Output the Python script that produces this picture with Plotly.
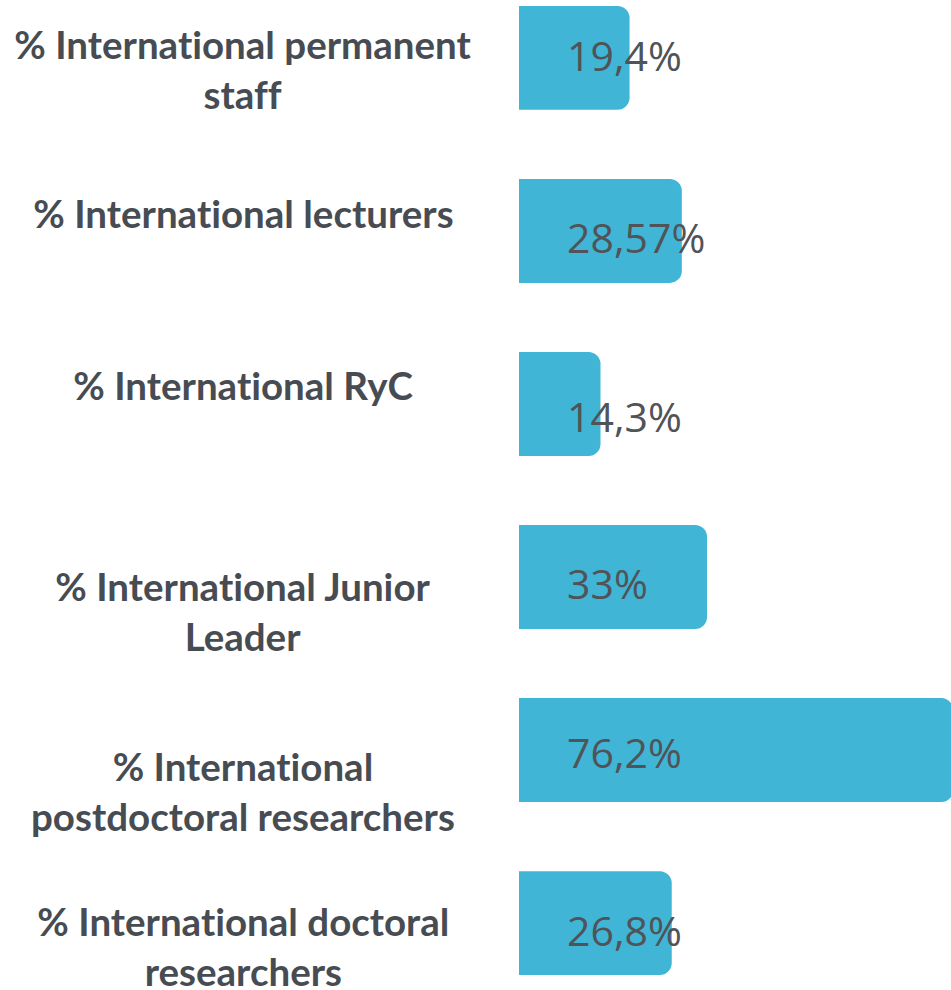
import plotly.graph_objects as go

categories = [
    "% International permanent<br>staff",
    "% International lecturers",
    "% International RyC",
    "% International Junior<br>Leader",
    "% International<br>postdoctoral researchers",
    "% International doctoral<br>researchers",
]
values = [19.4, 28.57, 14.3, 33, 76.2, 26.8]
value_labels = ["19,4%", "28,57%", "14,3%", "33%", "76,2%", "26,8%"]

# style tweaks (vertical nudges in px) to mimic the reference layout
label_shift = [-11, 18, 19, -34, -41, -23]
value_shift = [3, -6, -12, -6, -2, -7]

BAR = "#41B5D6"
LABEL_COLOR = "#474c53"
VALUE_COLOR = "#505357"

idx = list(range(len(categories)))

fig = go.Figure(
    go.Bar(
        x=values,
        y=idx,
        orientation="h",
        marker=dict(color=BAR, cornerradius=12, line=dict(width=0)),
        width=0.6,
        hoverinfo="skip",
    )
)

annotations = []
for i, (cat, lab) in enumerate(zip(categories, value_labels)):
    annotations.append(dict(
        x=0, y=i, xref="x", yref="y",
        text=lab, showarrow=False, xanchor="left", yanchor="middle",
        xshift=46, yshift=value_shift[i],
        font=dict(family="Open Sans", size=41, color=VALUE_COLOR),
    ))
    annotations.append(dict(
        x=0, y=i, xref="paper", yref="y",
        text=cat, showarrow=False, xanchor="center", yanchor="middle",
        align="center", xshift=-276, yshift=label_shift[i],
        font=dict(family="Lato", size=38.5, color=LABEL_COLOR, weight="bold"),
    ))

fig.update_layout(
    width=951, height=990,
    margin=dict(l=519, r=0, t=0, b=0),
    paper_bgcolor="white", plot_bgcolor="white",
    showlegend=False,
    xaxis=dict(range=[0, 75.8], visible=False, fixedrange=True),
    yaxis=dict(range=[5.387, -0.335], visible=False, fixedrange=True),
    annotations=annotations,
)

post = (
    "var s=document.createElement('style');"
    "s.textContent='html,body{margin:0;padding:0;overflow:hidden}"
    " text{font-variant-ligatures:none;font-feature-settings:\"liga\" 0}';"
    "document.head.appendChild(s);"
)

fig.write_html("out.html", config={"displayModeBar": False}, post_script=post)
